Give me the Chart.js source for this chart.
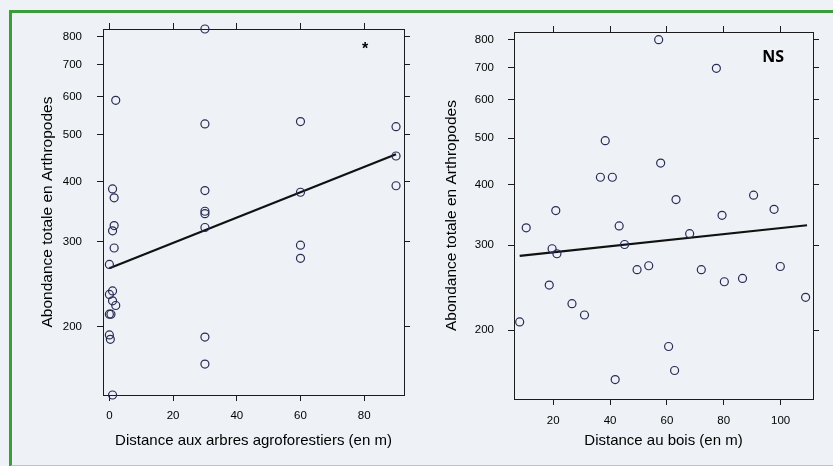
<!DOCTYPE html>
<html>
<head>
<meta charset="utf-8">
<script src="https://cdn.jsdelivr.net/npm/chart.js@4.4.1/dist/chart.umd.min.js"></script>
<style>
  body { margin: 0; background: #eef2f6; }
  #page { position: relative; width: 833px; height: 466px; overflow: hidden; background: #eef2f6; }
  #cadre { position: absolute; left: 9px; top: 10px; width: 840px; height: 452px;
           border-top: 3px solid #3a9d3a; border-left: 3px solid #3a9d3a; border-bottom: 2px solid #a9d6a0; }
  canvas { position: absolute; top: 0; }
  #arbres { left: 0; }
  #bois { left: 416px; }
</style>
</head>
<body>
<div id="page">
  <div id="cadre"></div>
  <canvas id="arbres" width="416" height="466"></canvas>
  <canvas id="bois" width="417" height="466"></canvas>
</div>
<script>
// donnees
const distArbres = [30, 2, 30, 60, 90, 90, 90, 1, 1.5, 30, 60, 30, 30, 30, 1.5, 1, 1.5, 0, 1, 0, 1, 2, 0, 0.5, 0, 0.3, 30, 30, 60, 60, 1];
const abondArbres = [830, 590, 527, 533, 520, 452, 392, 386, 370, 383, 380, 347, 343, 321, 324, 316, 291, 269, 237, 233, 226, 221, 212, 212, 192, 188, 190, 167, 295, 277, 144];
const droiteArbresX = [0, 90];
const droiteArbresY = [264, 456];

const distBois = [57.1, 77.4, 38.3, 36.6, 40.8, 57.8, 63.2, 90.5, 97.7, 20.9, 79.4, 10.5, 43.2, 68, 19.6, 21.3, 45.1, 49.5, 53.6, 72.1, 99.9, 18.6, 80.2, 86.6, 26.6, 31, 8.2, 108.8, 60.6, 62.7, 41.8];
const abondBois = [800, 698, 494, 415, 415, 444, 373, 381, 356, 354, 346, 326, 329, 317, 295, 288, 301, 267, 272, 267, 271, 248, 252, 256, 227, 215, 208, 234, 185, 165, 158];
const droiteBoisX = [8.2, 109.3];
const droiteBoisY = [285, 330];

const ticksY = [200, 300, 400, 500, 600, 700, 800];
const ticksArbres = [0, 20, 40, 60, 80];
const ticksBois = [20, 40, 60, 80, 100];

const trait = '#1c1c1c';
const police = '"Liberation Sans", Arial, sans-serif';

const note = {
  id: 'note',
  afterDatasetsDraw(chart, args, opts) {
    const c = chart.ctx;
    c.save();
    c.fillStyle = '#000';
    c.font = opts.font;
    c.textAlign = 'center';
    c.textBaseline = 'middle';
    c.fillText(opts.text, chart.scales.x.getPixelForValue(opts.x), chart.scales.y.getPixelForValue(opts.y));
    c.restore();
  }
};

function grille() {
  return { display: true, drawOnChartArea: false, drawTicks: true, tickLength: 6, color: trait, tickColor: trait };
}

function echelles(t, xmin, xmax, tailles) {
  const fixe = (vals) => (s) => { s.ticks = vals.map(v => ({ value: v })); };
  return {
    x: {
      type: 'linear', position: 'bottom', min: xmin, max: xmax,
      afterBuildTicks: fixe(t.xt),
      afterFit: (s) => { s.height = tailles.bas; },
      grid: grille(), border: { display: true, color: trait },
      ticks: { color: '#000', padding: tailles.padX, font: { family: police, size: 11.5 }, callback: (v) => v },
      title: { display: true, text: t.xTitre, color: '#000', font: { family: police, size: 15 } }
    },
    x2: {
      type: 'linear', position: 'top', min: xmin, max: xmax,
      afterBuildTicks: fixe(t.xt),
      afterFit: (s) => { s.height = tailles.haut; },
      grid: grille(), border: { display: true, color: trait },
      ticks: { display: false }
    },
    y: {
      type: 'logarithmic', position: 'left', min: 144, max: 830,
      afterBuildTicks: fixe(ticksY),
      afterFit: (s) => { s.width = tailles.gauche; },
      grid: grille(), border: { display: true, color: trait },
      ticks: { color: '#000', padding: tailles.padY, font: { family: police, size: 11.5 }, callback: (v) => String(v) },
      title: { display: true, text: 'Abondance totale en Arthropodes', color: '#000', font: { family: police, size: 15.5 } }
    },
    y2: {
      type: 'logarithmic', position: 'right', min: 144, max: 830,
      afterBuildTicks: fixe(ticksY),
      afterFit: (s) => { s.width = tailles.droite; },
      grid: grille(), border: { display: true, color: trait },
      ticks: { display: false }
    }
  };
}

function graphique(id, xs, ys, dx, dy, t, xmin, xmax, tailles, pad, annot) {
  return new Chart(document.getElementById(id), {
    data: {
      datasets: [
        {
          type: 'scatter',
          data: xs.map((x, i) => ({ x: x, y: ys[i] })),
          pointRadius: 4, pointBorderWidth: 1.2, pointBorderColor: '#272b55',
          pointBackgroundColor: 'rgba(0,0,0,0)', clip: false
        },
        {
          type: 'line',
          data: dx.map((x, i) => ({ x: x, y: dy[i] })),
          borderColor: '#111', borderWidth: 2.2, pointRadius: 0, fill: false
        }
      ]
    },
    options: {
      responsive: false,
      animation: false,
      layout: { padding: pad },
      plugins: { legend: { display: false }, tooltip: { enabled: false }, note: annot },
      scales: echelles(t, xmin, xmax, tailles)
    },
    plugins: [note]
  });
}

graphique('arbres', distArbres, abondArbres, droiteArbresX, droiteArbresY,
  { xt: ticksArbres, xTitre: 'Distance aux arbres agroforestiers (en m)' },
  -2, 92.5,
  { bas: 59, haut: 29, gauche: 69, droite: 12, padX: 8, padY: 15 },
  { left: 34, right: 0, top: 0, bottom: 12 },
  { text: '*', x: 80.3, y: 752, font: 'bold 16px ' + police });

graphique('bois', distBois, abondBois, droiteBoisX, droiteBoisY,
  { xt: ticksBois, xTitre: 'Distance au bois (en m)' },
  6.2, 111.4,
  { bas: 55, haut: 32, gauche: 76, droite: 20, padX: 9, padY: 14 },
  { left: 22, right: 0, top: 0, bottom: 12 },
  { text: 'NS', x: 97.4, y: 735, font: 'bold 16px "Open Sans", ' + police });
</script>
</body>
</html>
